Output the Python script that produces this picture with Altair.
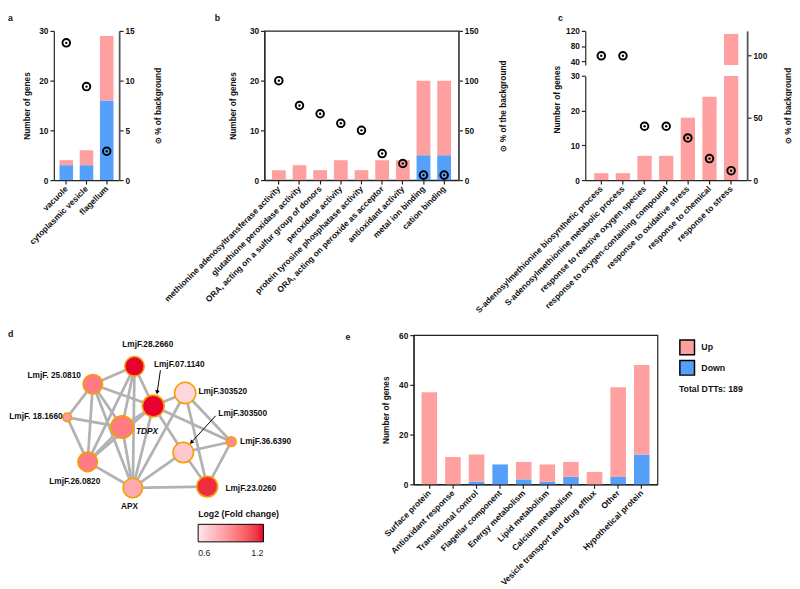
import altair as alt
import pandas as pd

FONT = "Liberation Sans"
PINK = "#FFA0A0"
BLUE = "#55A0FA"
CIRC = "\u2299"

# ---------------- data ----------------
# panel a
a_cats = ["vacuole", "cytoplasmic vesicle", "flagellum"]
a_up = [1, 3, 13]
a_down = [3, 3, 16]
a_pct = [13.8, 9.4, 2.9]

# panel b
b_cats = ["methionine adenosyltransferase activity", "glutathione peroxidase activity",
          "ORA, acting on a sulfur group of donors", "peroxidase activity",
          "protein tyrosine phosphatase activity", "ORA, acting on peroxide as acceptor",
          "antioxidant activity", "metal ion binding", "cation binding"]
b_up = [2, 3, 2, 4, 2, 4, 4, 15, 15]
b_down = [0, 0, 0, 0, 0, 0, 0, 5, 5]
b_pct = [100, 75, 66.7, 57.1, 50, 26.7, 16.7, 5, 5]

# panel c
c_cats = ["S-adenosylmethionine biosynthetic process", "S-adenosylmethionine metabolic process",
          "response to reactive oxygen species", "response to oxygen-containing compound",
          "response to oxidative stress", "response to chemical", "response to stress"]
c_up = [2, 2, 7, 7, 18, 24, 112]
c_pct = [100, 100, 43.3, 43.3, 33.9, 17.3, 7.6]
c_break = 30

# panel d (network)
d_names = ["LmjF.28.2660", "LmjF.07.1140", "LmjF. 25.0810", "LmjF.303520", "LmjF. 18.1660",
           "TDPX", "LmjF.303500", "LmjF.36.6390", "LmjF.26.0820", "APX", "LmjF.23.0260"]
d_x = [82.7, 102, 40, 134.7, 13.7, 70, 132.7, 182, 34.7, 81, 157.3]
d_y = [32, 72.7, 50.3, 59.3, 84.3, 94.3, 120.3, 109.3, 130, 156.7, 155.3]
d_radius = [12, 13.3, 12, 13, 5.7, 13.7, 12.5, 6.3, 12, 12, 12.7]
d_fc = [1.2, 1.2, 0.95, 0.65, 0.85, 0.95, 0.7, 0.9, 0.95, 0.8, 1.15]
d_edges = [
    ("LmjF. 25.0810", "LmjF.28.2660"), ("LmjF. 25.0810", "LmjF.07.1140"),
    ("LmjF. 25.0810", "TDPX"), ("LmjF. 25.0810", "LmjF.26.0820"),
    ("LmjF. 25.0810", "APX"), ("LmjF. 25.0810", "LmjF. 18.1660"),
    ("LmjF.28.2660", "TDPX"), ("LmjF.28.2660", "LmjF.26.0820"),
    ("LmjF.28.2660", "APX"), ("LmjF.28.2660", "LmjF.07.1140"),
    ("LmjF. 18.1660", "TDPX"), ("LmjF. 18.1660", "LmjF.26.0820"),
    ("TDPX", "LmjF.26.0820"), ("TDPX", "LmjF.07.1140"), ("TDPX", "APX"),
    ("LmjF.07.1140", "LmjF.26.0820"), ("LmjF.07.1140", "APX"),
    ("LmjF.07.1140", "LmjF.303520"), ("LmjF.07.1140", "LmjF.36.6390"),
    ("LmjF.07.1140", "LmjF.303500"), ("LmjF.303520", "APX"),
    ("LmjF.303520", "LmjF.36.6390"), ("LmjF.303520", "LmjF.23.0260"),
    ("LmjF.303500", "APX"), ("LmjF.303500", "LmjF.36.6390"),
    ("LmjF.303500", "LmjF.23.0260"), ("LmjF.36.6390", "LmjF.23.0260"),
    ("APX", "LmjF.23.0260"), ("LmjF.26.0820", "APX"),
]
# label placement (layout units)
lab_x = [96.3, 102.7, 27.7, 148.3, 9, 84.3, 168.7, 191, 21.5, 77.7, 176]
lab_y = [8.7, 30, 41, 57.7, 82.7, 98.7, 80.3, 108.7, 149.3, 175.3, 156.7]
lab_align = ["center", "left", "right", "left", "right", "left", "left", "left", "center", "center", "left"]
lab_italic = [False, False, False, False, False, True, False, False, False, False, False]
arrow_from = [(109.3, 36), (166, 82.7)]
arrow_to = [(106, 58.7), (141, 110)]
arrow_angle = [188, 222]

# panel e
e_cats = ["Surface protein", "Antioxidant response", "Translational control", "Flagellar component",
          "Energy metabolism", "Lipid metabolism", "Calcium metabolism",
          "Vesicle transport and drug efflux", "Other", "Hypothetical protein"]
e_up = [37, 11, 11, 0, 7, 7, 6, 5, 36, 36]
e_down = [0, 0, 1, 8, 2, 1, 3, 0, 3, 12]


def stacked(cats, up, down):
    rows = []
    for c, u, d in zip(cats, up, down):
        rows.append({"cat": c, "dir": "Down", "n": d, "ord": 0})
        rows.append({"cat": c, "dir": "Up", "n": u, "ord": 1})
    return pd.DataFrame(rows)


color_enc = alt.Color("dir:N", scale=alt.Scale(domain=["Up", "Down"], range=[PINK, BLUE]), legend=None)
LAB = dict(labelAngle=315, labelAlign="right", labelBaseline="middle", labelPadding=3,
           labelLimit=400, ticks=True, tickSize=4, title=None, labelFontSize=8.6)


def panel_title(letter, dx, dy):
    return alt.TitleParams(letter, anchor="start", frame="group", dx=dx, dy=dy, offset=0,
                           fontSize=9, font=FONT, fontWeight="bold", color="#111")


def xenc(cats, pi, po):
    return alt.X("cat:N", sort=cats, scale=alt.Scale(paddingInner=pi, paddingOuter=po),
                 axis=alt.Axis(**LAB))


def left_axis(vals, tx, **kw):
    return alt.Axis(orient="left", values=vals, title="Number of genes", titleX=tx,
                    titleBaseline="middle", **kw)


def circles(df, x, ydom, yvals, ytitle, tx):
    sc = alt.Scale(domain=ydom, nice=False, zero=True)
    ax = alt.Axis(orient="right", values=yvals, title=ytitle, titleAngle=270, titleX=tx,
                  titleBaseline="middle", domainColor="#555", domainWidth=1.8)
    y = alt.Y("pct:Q", scale=sc, axis=ax)
    ring = alt.Chart(df).mark_point(shape="circle", filled=False, color="black", strokeWidth=2,
                                    size=60, opacity=1).encode(x=x, y=y)
    dot = alt.Chart(df).mark_circle(color="black", size=6, opacity=1).encode(x=x, y=y)
    return alt.layer(ring, dot)


# ---------------- panel a ----------------
xa = xenc(a_cats, 0.33, 0.28)
bars_a = alt.Chart(stacked(a_cats, a_up, a_down)).mark_bar().encode(
    x=xa,
    y=alt.Y("n:Q", stack="zero", scale=alt.Scale(domain=[0, 30], nice=False),
            axis=left_axis([0, 10, 20, 30], -28)),
    color=color_enc, order=alt.Order("ord:Q"))
pa = pd.DataFrame({"cat": a_cats, "pct": a_pct})
chart_a = alt.layer(bars_a, circles(pa, xa, [0, 15], [0, 5, 10, 15], CIRC + " % of background", 39)
                    ).resolve_scale(y="independent").properties(
    width=67, height=153, title=panel_title("a", -47, -4))

# ---------------- panel b ----------------
xb = xenc(b_cats, 0.33, 0.36)
bars_b = alt.Chart(stacked(b_cats, b_up, b_down)).mark_bar().encode(
    x=xb,
    y=alt.Y("n:Q", stack="zero", scale=alt.Scale(domain=[0, 30], nice=False),
            axis=left_axis([0, 10, 20, 30], -33)),
    color=color_enc, order=alt.Order("ord:Q"))
pb = pd.DataFrame({"cat": b_cats, "pct": b_pct})
chart_b = alt.layer(bars_b, circles(pb, xb, [0, 150], [0, 50, 100, 150], CIRC + " % of the background", 45)
                    ).resolve_scale(y="independent").properties(
    width=199, height=153, view=alt.ViewBackground(stroke="#222", strokeWidth=1.2),
    title=panel_title("b", -51, -4))

# ---------------- panel c (broken axis) ----------------
xc = xenc(c_cats, 0.34, 0.41)
dfc = pd.DataFrame({"cat": c_cats, "n": c_up, "pct": c_pct})
dfc["low"] = dfc["n"].clip(upper=c_break)
dfc_hi = dfc[dfc["n"] > c_break].copy()
dfc_hi["base"] = c_break
bars_c_low = alt.Chart(dfc).mark_bar(color=PINK).encode(
    x=xc,
    y=alt.Y("low:Q", scale=alt.Scale(domain=[0, 30], range=[153, 46.3], nice=False),
            axis=left_axis([0, 10, 20, 30], -29, titleY=70)))
bars_c_hi = alt.Chart(dfc_hi).mark_bar(color=PINK).encode(
    x=xc,
    y=alt.Y("n:Q", scale=alt.Scale(domain=[30, 120], range=[35, 0], nice=False, zero=False),
            axis=alt.Axis(orient="left", values=[40, 80, 120], title=None)),
    y2="base:Q")
chart_c = alt.layer(bars_c_low, bars_c_hi,
                    circles(dfc, xc, [0, 120], [0, 50, 100], CIRC + " % of background", 41)
                    ).resolve_scale(y="independent").resolve_axis(y="independent").properties(
    width=166, height=153, title=panel_title("c", -28, -4))

# ---------------- panel d (network) ----------------
nodes = pd.DataFrame({"name": d_names, "x": d_x, "y": d_y, "r": d_radius, "fc": d_fc})
nodes["area"] = 3.14159 * (nodes["r"] - 0.7) ** 2
pos = {n: (x, y) for n, x, y in zip(d_names, d_x, d_y)}
edges = pd.DataFrame([{"x": pos[s][0], "y": pos[s][1], "x2": pos[t][0], "y2": pos[t][1]} for s, t in d_edges])
labels = pd.DataFrame({"name": d_names, "lx": lab_x, "ly": lab_y, "align": lab_align, "italic": lab_italic})
arrows = pd.DataFrame({"x": [p[0] for p in arrow_from], "y": [p[1] for p in arrow_from],
                       "x2": [p[0] for p in arrow_to], "y2": [p[1] for p in arrow_to],
                       "ang": arrow_angle})

DX = alt.Scale(domain=[0, 230], nice=False, zero=False)
DY = alt.Scale(domain=[0, 230], nice=False, zero=False, reverse=True)

edge_l = alt.Chart(edges).mark_rule(color="#B2B2B2", strokeWidth=2.8).encode(
    x=alt.X("x:Q", scale=DX, axis=None), y=alt.Y("y:Q", scale=DY, axis=None), x2="x2:Q", y2="y2:Q")
node_l = alt.Chart(nodes).mark_circle(stroke="#F5A000", strokeWidth=1.6, opacity=1).encode(
    x=alt.X("x:Q", scale=DX, axis=None), y=alt.Y("y:Q", scale=DY, axis=None),
    size=alt.Size("area:Q", scale=None, legend=None),
    color=alt.Color("fc:Q", scale=alt.Scale(domain=[0.6, 1.2], range=["#FFE6E9", "#E8002E"]),
                    legend=alt.Legend(title="Log2 (Fold change)", orient="none", legendX=148, legendY=180,
                                      direction="horizontal", gradientLength=67, gradientThickness=18,
                                      gradientStrokeColor="black", gradientStrokeWidth=1,
                                      values=[0.6, 1.2], format=".1f", titleFontSize=9, titleFont=FONT,
                                      titleFontWeight="bold", titleColor="#111", labelFontSize=9,
                                      labelFont=FONT, labelColor="#222", titlePadding=5, labelOffset=8)))
text_layers = []
for al in ["left", "center", "right"]:
    for it in [False, True]:
        sub = labels[(labels["align"] == al) & (labels["italic"] == it)]
        if len(sub) == 0:
            continue
        text_layers.append(alt.Chart(sub).mark_text(
            align=al, baseline="middle", font=FONT, fontSize=8.5, fontWeight="bold",
            fontStyle="italic" if it else "normal", color="#111").encode(
            x=alt.X("lx:Q", scale=DX, axis=None), y=alt.Y("ly:Q", scale=DY, axis=None), text="name:N"))
arrow_l = alt.Chart(arrows).mark_rule(color="black", strokeWidth=1).encode(
    x=alt.X("x:Q", scale=DX, axis=None), y=alt.Y("y:Q", scale=DY, axis=None), x2="x2:Q", y2="y2:Q")
head_l = alt.Chart(arrows).mark_point(shape="triangle-up", filled=True, color="black", size=22, opacity=1).encode(
    x=alt.X("x2:Q", scale=DX, axis=None), y=alt.Y("y2:Q", scale=DY, axis=None),
    angle=alt.Angle("ang:Q", scale=None))
chart_d = alt.layer(edge_l, node_l, *text_layers, arrow_l, head_l).properties(
    width=230, height=230, title=panel_title("d", -47, 4))

# ---------------- panel e ----------------
xe = xenc(e_cats, 0.34, 0.335)
chart_e = alt.Chart(stacked(e_cats, e_up, e_down)).mark_bar().encode(
    x=xe,
    y=alt.Y("n:Q", stack="zero", scale=alt.Scale(domain=[0, 60], nice=False),
            axis=left_axis([0, 20, 40, 60], -29)),
    color=alt.Color("dir:N", scale=alt.Scale(domain=["Up", "Down"], range=[PINK, BLUE]),
                    legend=alt.Legend(title="Total DTTs: 189", titleOrient="bottom", titleAnchor="start",
                                      orient="none", legendX=272, legendY=4, symbolType="square",
                                      symbolSize=225, symbolStrokeColor="black", symbolStrokeWidth=1.5,
                                      labelFont=FONT, labelFontSize=9, labelFontWeight="bold",
                                      labelColor="#111", titleFont=FONT, titleFontSize=9,
                                      titleFontWeight="bold", titleColor="#111", rowPadding=0,
                                      titlePadding=7, labelOffset=6)),
    order=alt.Order("ord:Q")).properties(
    width=250, height=153, view=alt.ViewBackground(stroke="#222", strokeWidth=1.2),
    title=panel_title("e", -70, 11))

top = alt.HConcatChart(hconcat=[chart_a, alt.HConcatChart(hconcat=[chart_b, chart_c], spacing=130, bounds="flush")],
                       spacing=149, bounds="flush")
bottom = alt.HConcatChart(hconcat=[chart_d, chart_e], spacing=139, bounds="flush")
chart = alt.VConcatChart(vconcat=[top, bottom], spacing=312, bounds="flush").properties(
    padding={"left": 0, "top": -2, "right": 0, "bottom": 0}).configure_view(stroke=None).configure_axis(
    labelFont=FONT, titleFont=FONT, labelFontSize=8.5, titleFontSize=8.5, labelFontWeight="bold",
    titleFontWeight="bold", domainColor="#222", tickColor="#222", labelColor="#111", titleColor="#111",
    domainWidth=1.2, tickWidth=1.2, tickSize=4, grid=False, labelPadding=2)

chart.save("out.html", embed_options={"renderer": "svg", "actions": False})
